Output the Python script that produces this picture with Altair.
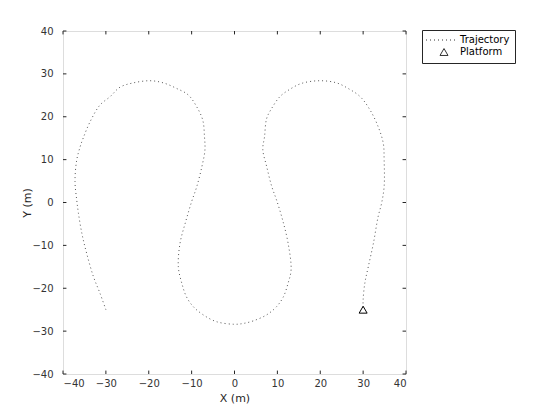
import altair as alt
import pandas as pd

# Trajectory (metres)
traj_x = [-30.0, -31.4, -32.9, -34.5, -35.6, -36.4, -36.8, -37.2, -36.8, -36.0, -35.3, -33.7,
          -31.4, -29.0, -26.7, -23.6, -19.7, -16.6, -13.5, -10.8, -8.8, -7.4, -7.0, -6.9,
          -7.6, -8.8, -10.0, -11.4, -12.7, -13.1, -12.3, -11.2, -9.6, -7.3, -4.2, 0.0,
          2.1, 4.4, 7.5, 9.8, 11.4, 12.5, 13.2, 12.5, 11.2, 9.8, 8.7, 7.5, 6.6, 7.0,
          7.5, 8.7, 10.6, 12.9, 15.7, 19.9, 23.8, 26.5, 29.3, 31.6, 33.5, 34.7, 34.9,
          34.9, 34.3, 33.5, 32.4, 31.2, 30.4, 30.0, 30.0]
traj_y = [-25.0, -21.1, -17.3, -11.8, -7.2, -2.5, 0.6, 4.9, 9.9, 13.0, 15.0, 18.8,
          22.7, 24.7, 26.9, 27.9, 28.4, 27.9, 26.6, 25.1, 22.3, 19.2, 15.3, 12.2,
          8.4, 3.7, 0.2, -4.5, -9.5, -15.0, -18.8, -22.0, -24.3, -26.2, -27.8, -28.4,
          -28.2, -27.6, -26.2, -24.3, -22.0, -18.8, -15.7, -9.5, -4.0, 0.6, 3.7, 8.4, 12.4, 15.3,
          19.6, 22.0, 24.7, 26.4, 27.8, 28.4, 27.9, 26.6, 24.7, 21.6, 17.7, 13.8, 9.9,
          3.7, -0.2, -3.3, -9.5, -15.0, -18.8, -22.7, -25.0]

platform_x = [30.0]
platform_y = [-25.0]

series_names = ["Trajectory", "Platform"]
tick_values = [-40, -30, -20, -10, 0, 10, 20, 30, 40]

traj = pd.DataFrame({"x": traj_x, "y": traj_y, "i": list(range(len(traj_x)))})
plat = pd.DataFrame({"x": platform_x, "y": platform_y, "s": ["Platform"]})

TL = 0.8  # inward tick length in data units
ticks = pd.DataFrame(
    [{"x": t, "x2": t, "y": -40, "y2": -40 + TL} for t in tick_values]
    + [{"x": t, "x2": t, "y": 40, "y2": 40 - TL} for t in tick_values]
    + [{"x": -40, "x2": -40 + TL, "y": t, "y2": t} for t in tick_values]
    + [{"x": 40, "x2": 40 - TL, "y": t, "y2": t} for t in tick_values]
)

# legend glyph for the dotted line
dots = "".join(f"M{-4.5 + k * 1.0:.2f},0h0.25" for k in range(8))

xs = alt.Scale(domain=[-40, 40], nice=False, zero=False)
ys = alt.Scale(domain=[-40, 40], nice=False, zero=False)
FONT = "DejaVu Sans"

xaxis = alt.Axis(values=tick_values, tickSize=0, grid=False, domain=False,
                 labelFont=FONT, labelFontSize=10, labelColor="#333333",
                 labelPadding=4, title="X (m)", titleFont=FONT, titleFontSize=11,
                 titleFontWeight="normal", titleColor="#262626", titlePadding=4)
yaxis = alt.Axis(values=tick_values, tickSize=0, grid=False, domain=False,
                 labelFont=FONT, labelFontSize=10, labelColor="#333333",
                 labelPadding=10, title="Y (m)", titleFont=FONT, titleFontSize=11,
                 titleFontWeight="normal", titleColor="#262626", titlePadding=-1)

line = alt.Chart(traj).mark_line(color="#555555", strokeWidth=1, strokeDash=[1, 3],
                                 interpolate="catmull-rom").encode(
    x=alt.X("x:Q", scale=xs, axis=xaxis),
    y=alt.Y("y:Q", scale=ys, axis=yaxis),
    order="i:Q",
)

tick_layer = alt.Chart(ticks).mark_rule(color="#262626", strokeWidth=1).encode(
    x=alt.X("x:Q", scale=xs), x2="x2:Q",
    y=alt.Y("y:Q", scale=ys), y2="y2:Q",
)

pts = alt.Chart(plat).mark_point(filled=False, color="black", strokeWidth=1, size=64, opacity=1).encode(
    x=alt.X("x:Q", scale=xs),
    y=alt.Y("y:Q", scale=ys),
    shape=alt.Shape("s:N", scale=alt.Scale(domain=series_names, range=[dots, "triangle-up"]),
                    legend=alt.Legend(title=None, orient="none", legendX=359, legendY=-1,
                                      strokeColor="#262626", fillColor="white", padding=5,
                                      symbolSize=64, symbolStrokeColor="#333333",
                                      symbolFillColor="white", symbolStrokeWidth=1,
                                      symbolOffset=12, labelOffset=11,
                                      labelFont=FONT, labelFontSize=10, labelColor="black",
                                      rowPadding=1)),
)

chart = alt.layer(line, tick_layer, pts).properties(
    width=343, height=343,
    autosize=alt.AutoSizeParams(type="none"),
    padding={"left": 55, "top": 23, "right": 140, "bottom": 40},
).configure_view(stroke="#262626", strokeWidth=1).configure(background="white")

chart.save("out.html", embed_options={"renderer": "svg", "actions": False})
